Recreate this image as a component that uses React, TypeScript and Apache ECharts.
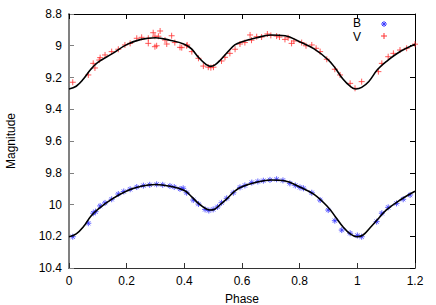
import React, { useEffect, useRef } from "react";
import * as echarts from "echarts";

const xTicks = [0, 0.2, 0.4, 0.6, 0.8, 1, 1.2];
const yTicks = [8.8, 9, 9.2, 9.4, 9.6, 9.8, 10, 10.2, 10.4];

const vModelPhase = [0, 0.025, 0.05, 0.075, 0.1, 0.15, 0.2, 0.25, 0.3, 0.35, 0.4, 0.425, 0.45, 0.475, 0.49, 0.505, 0.525, 0.55, 0.575, 0.6, 0.65, 0.7, 0.75, 0.8, 0.85, 0.9, 0.925, 0.95, 0.975, 0.995, 1.015, 1.04, 1.07, 1.1, 1.15, 1.2];
const vModelMag = [9.272, 9.255, 9.21, 9.15, 9.105, 9.05, 8.993, 8.96, 8.95, 8.965, 8.99, 9.02, 9.075, 9.118, 9.13, 9.122, 9.09, 9.04, 8.995, 8.975, 8.95, 8.932, 8.937, 8.975, 9.02, 9.09, 9.145, 9.21, 9.255, 9.272, 9.262, 9.225, 9.15, 9.1, 9.035, 8.99];

const bModelPhase = [0, 0.025, 0.05, 0.075, 0.1, 0.15, 0.2, 0.25, 0.3, 0.35, 0.4, 0.425, 0.45, 0.475, 0.49, 0.505, 0.525, 0.55, 0.575, 0.6, 0.65, 0.7, 0.75, 0.8, 0.85, 0.9, 0.925, 0.95, 0.975, 0.998, 1.02, 1.045, 1.07, 1.1, 1.15, 1.2];
const bModelMag = [10.203, 10.185, 10.14, 10.075, 10.03, 9.965, 9.915, 9.885, 9.874, 9.885, 9.912, 9.95, 9.995, 10.027, 10.035, 10.03, 10.0, 9.96, 9.915, 9.888, 9.86, 9.846, 9.852, 9.89, 9.936, 10.02, 10.08, 10.14, 10.185, 10.203, 10.192, 10.145, 10.095, 10.035, 9.97, 9.917];

const vObsPhase = [0.013, 0.067, 0.084, 0.09, 0.108, 0.105, 0.125, 0.148, 0.171, 0.194, 0.212, 0.235, 0.252, 0.275, 0.275, 0.292, 0.298, 0.316, 0.31, 0.304, 0.298, 0.333, 0.339, 0.356, 0.367, 0.385, 0.391, 0.41, 0.408, 0.426, 0.449, 0.466, 0.483, 0.492, 0.501, 0.529, 0.541, 0.558, 0.576, 0.593, 0.61, 0.628, 0.633, 0.651, 0.668, 0.688, 0.7, 0.72, 0.73, 0.749, 0.772, 0.78, 0.76, 0.807, 0.822, 0.842, 0.857, 0.871, 0.894, 0.922, 0.94, 0.975, 0.992, 1.015, 1.073, 1.085, 1.107, 1.125, 1.148, 1.171, 1.2];
const vObsMag = [9.23, 9.184, 9.111, 9.14, 9.075, 9.09, 9.058, 9.037, 9.022, 8.995, 8.985, 8.953, 8.947, 8.953, 8.985, 8.918, 8.94, 8.907, 8.94, 9.0, 9.006, 8.964, 8.989, 8.937, 8.98, 9.01, 9.012, 8.995, 9.0, 9.037, 9.079, 9.128, 9.135, 9.138, 9.135, 9.096, 9.073, 9.048, 9.022, 8.989, 8.98, 8.932, 8.965, 8.943, 8.945, 8.926, 8.935, 8.939, 8.945, 8.96, 8.985, 8.97, 8.95, 8.98, 9.0, 8.995, 9.016, 9.037, 9.085, 9.148, 9.184, 9.237, 9.268, 9.226, 9.163, 9.111, 9.069, 9.048, 9.027, 9.016, 8.99];

const bObsPhase = [0.013, 0.067, 0.084, 0.092, 0.108, 0.125, 0.148, 0.171, 0.19, 0.212, 0.235, 0.258, 0.28, 0.304, 0.325, 0.35, 0.365, 0.385, 0.396, 0.408, 0.431, 0.449, 0.472, 0.485, 0.5, 0.515, 0.529, 0.547, 0.57, 0.593, 0.61, 0.634, 0.655, 0.674, 0.697, 0.72, 0.742, 0.766, 0.785, 0.801, 0.813, 0.842, 0.871, 0.899, 0.922, 0.946, 0.975, 1.0, 1.015, 1.067, 1.085, 1.107, 1.136, 1.159, 1.183];
const bObsMag = [10.203, 10.118, 10.055, 10.045, 10.009, 9.99, 9.967, 9.934, 9.918, 9.904, 9.89, 9.881, 9.876, 9.873, 9.876, 9.883, 9.89, 9.902, 9.898, 9.926, 9.972, 9.997, 10.031, 10.038, 10.031, 10.015, 9.989, 9.961, 9.926, 9.892, 9.88, 9.862, 9.855, 9.85, 9.845, 9.841, 9.848, 9.867, 9.88, 9.892, 9.898, 9.926, 9.972, 10.035, 10.102, 10.161, 10.181, 10.195, 10.203, 10.108, 10.055, 10.018, 9.993, 9.967, 9.94];

const FONT = "'Liberation Sans', Arial, sans-serif";
const PLUS = "path://M0,5L10,5M5,0L5,10";
const STAR = "path://M0,5L10,5M5,0L5,10M1.5,1.5L8.5,8.5M8.5,1.5L1.5,8.5";

const zip = (a: number[], b: number[]) => a.map((x, i) => [x, b[i]]);
const fmt = (v: number) => String(Number(v.toFixed(1)));

export default function App() {
  const ref = useRef<HTMLDivElement>(null);
  useEffect(() => {
    if (!ref.current) return;
    const chart = echarts.init(ref.current, null, { renderer: "svg" });
    const xMin = xTicks[0], xMax = xTicks[xTicks.length - 1];
    const yMin = yTicks[0], yMax = yTicks[yTicks.length - 1];
    const labelStyle = { color: "#000", fontSize: 12, fontFamily: FONT };
    chart.setOption({
      animation: false,
      grid: { left: 69, right: 21, top: 14, bottom: 37, outerBoundsMode: "none", containLabel: false },
      xAxis: [
        {
          type: "value", min: xMin, max: xMax, interval: 0.2, position: "bottom",
          name: "Phase", nameLocation: "middle", nameGap: 25,
          nameTextStyle: { ...labelStyle },
          axisLine: { show: true, onZero: false, lineStyle: { color: "#333", width: 1 } },
          axisTick: { show: true, inside: true, length: 5, lineStyle: { color: "#333" } },
          axisLabel: { ...labelStyle, margin: 7, formatter: fmt },
          splitLine: { show: false },
        },
        {
          type: "value", min: xMin, max: xMax, interval: 0.2, position: "top",
          axisLine: { show: true, onZero: false, lineStyle: { color: "#000", width: 1 } },
          axisTick: { show: true, inside: true, length: 5, lineStyle: { color: "#000" } },
          axisLabel: { show: false },
          splitLine: { show: false },
        },
      ],
      yAxis: [
        {
          type: "value", min: yMin, max: yMax, interval: 0.2, inverse: true, position: "left",
          name: "Magnitude", nameLocation: "middle", nameGap: 52,
          nameTextStyle: { ...labelStyle },
          axisLine: { show: true, onZero: false, lineStyle: { color: "#808080", width: 2 } },
          axisTick: { show: true, inside: true, length: 5, lineStyle: { color: "#808080" } },
          axisLabel: { ...labelStyle, margin: 7, formatter: fmt },
          splitLine: { show: false },
        },
        {
          type: "value", min: yMin, max: yMax, interval: 0.2, inverse: true, position: "right",
          axisLine: { show: true, onZero: false, lineStyle: { color: "#000", width: 1 } },
          axisTick: { show: true, inside: true, length: 5, lineStyle: { color: "#000" } },
          axisLabel: { show: false },
          splitLine: { show: false },
        },
      ],
      series: [
        {
          name: "V", type: "scatter", data: zip(vObsPhase, vObsMag),
          symbol: PLUS, symbolSize: 6,
          itemStyle: { color: "transparent", borderColor: "#ff3030", borderWidth: 1, opacity: 0.8 },
          z: 2,
        },
        {
          name: "B", type: "scatter", data: zip(bObsPhase, bObsMag),
          symbol: STAR, symbolSize: 6,
          itemStyle: { color: "transparent", borderColor: "#3a3aff", borderWidth: 1, opacity: 0.8 },
          z: 2,
        },
        {
          name: "V model", type: "line", data: zip(vModelPhase, vModelMag),
          smooth: 0.4, showSymbol: false, lineStyle: { color: "#000", width: 1.6 }, z: 3,
        },
        {
          name: "B model", type: "line", data: zip(bModelPhase, bModelMag),
          smooth: 0.4, showSymbol: false, lineStyle: { color: "#000", width: 1.6 }, z: 3,
        },
      ],
      graphic: [
        { type: "text", style: { x: 357, y: 23, text: "B", textAlign: "center", textVerticalAlign: "middle", fontSize: 12, fontFamily: FONT, fill: "#000" } },
        { type: "text", style: { x: 357, y: 37, text: "V", textAlign: "center", textVerticalAlign: "middle", fontSize: 12, fontFamily: FONT, fill: "#000" } },
        { type: "line", shape: { x1: 381, y1: 24, x2: 387, y2: 24 }, style: { stroke: "#3a3aff", lineWidth: 1 } },
        { type: "line", shape: { x1: 384, y1: 21, x2: 384, y2: 27 }, style: { stroke: "#3a3aff", lineWidth: 1 } },
        { type: "line", shape: { x1: 382, y1: 22, x2: 386, y2: 26 }, style: { stroke: "#3a3aff", lineWidth: 1 } },
        { type: "line", shape: { x1: 386, y1: 22, x2: 382, y2: 26 }, style: { stroke: "#3a3aff", lineWidth: 1 } },
        { type: "line", shape: { x1: 381, y1: 36, x2: 387, y2: 36 }, style: { stroke: "#ff3030", lineWidth: 1 } },
        { type: "line", shape: { x1: 384, y1: 33, x2: 384, y2: 39 }, style: { stroke: "#ff3030", lineWidth: 1 } },
      ],
    });
    return () => chart.dispose();
  }, []);
  return <div ref={ref} style={{ width: 436, height: 305, position: "absolute", left: 0, top: 0 }} />;
}
